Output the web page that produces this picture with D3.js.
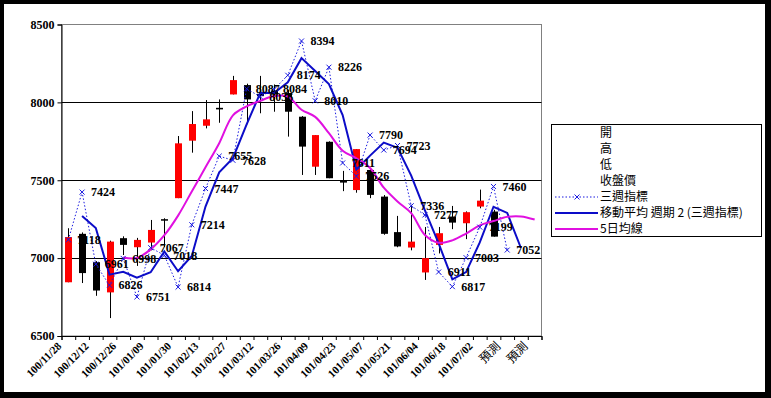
<!DOCTYPE html>
<html>
<head>
<meta charset="utf-8">
<script src="https://cdn.jsdelivr.net/npm/d3@7"></script>
<style>
  body { margin: 0; background: #000; }
  svg text { font-family: "Liberation Serif", serif; font-weight: bold; fill: #000; }
  .cjk { font-family: "Noto Sans CJK TC", sans-serif; font-weight: normal; }
</style>
</head>
<body>
<svg id="chart" width="771" height="398"></svg>
<script>
// week labels (ROC dates), last ones are forecast slots
const weeks = ['100/11/28', '100/12/05', '100/12/12', '100/12/19', '100/12/26', '101/01/02',
  '101/01/09', '101/01/16', '101/01/30', '101/02/06', '101/02/13', '101/02/20', '101/02/27',
  '101/03/05', '101/03/12', '101/03/19', '101/03/26', '101/04/02', '101/04/09', '101/04/16',
  '101/04/23', '101/04/30', '101/05/07', '101/05/14', '101/05/21', '101/05/28', '101/06/04',
  '101/06/11', '101/06/18', '101/06/25', '101/07/02', '101/07/09', '預測', '預測', '預測'];

// weekly candles
const open = [6845, 7156, 6974, 6780, 7128, 7070, 7100, 7250, 7385, 7754, 7850, 7965, 8051, 8111, 8055, 8075,
  8060, 7908, 7587, 7747, 7495, 7437, 7566, 7395, 7167, 7068, 6908, 7085, 7267, 7224, 7331, 7299];
const high = [7192, 7165, 6981, 7112, 7140, 7130, 7245, 7256, 7784, 7944, 8015, 8019, 8170, 8120, 8170, 8115,
  8080, 7912, 7790, 7750, 7560, 7700, 7577, 7405, 7271, 7342, 7200, 7200, 7335, 7300, 7440, 7310];
const low = [6845, 6840, 6758, 6615, 7020, 6950, 7050, 7070, 7385, 7677, 7833, 7869, 8051, 7860, 7930, 7940,
  7780, 7534, 7534, 7513, 7430, 7420, 7385, 7150, 7070, 7050, 6860, 7030, 7186, 7122, 7320, 7138];
const close = [7135, 6904, 6792, 7106, 7085, 7117, 7181, 7245, 7737, 7861, 7891, 7955, 8143, 8019, 8040, 8050,
  7940, 7716, 7790, 7513, 7485, 7700, 7406, 7156, 7075, 7106, 7000, 7160, 7228, 7295, 7369, 7138];

// 三週指標
const threeWeek = [7118, 7424, 6961, 6826, 6998, 6751, 7067, 7018, 6814, 7214, 7447, 7655, 7628, 8087, 8036, 8084,
  8174, 8394, 8010, 8226, 7611, 7526, 7790, 7694, 7723, 7336, 7277, 6911, 6817, 7003, 7199, 7460, 7052, null, null];

// 移動平均 週期 2 (三週指標)
const ma2 = [null, 7271, 7193, 6894, 6912, 6875, 6909, 7043, 6916, 7014, 7331, 7551, 7642, 7858, 8062, 8060,
  8129, 8284, 8202, 8118, 7919, 7569, 7658, 7742, 7709, 7530, 7307, 7094, 6864, 6910, 7101, 7330, 7290, 7065, null];

// 5日均線
const ma5 = [null, null, null, null, 7004, 7001, 7056, 7147, 7273, 7428, 7583, 7738, 7917, 7974, 8010, 8041,
  8038, 7953, 7907, 7802, 7689, 7641, 7579, 7452, 7364, 7289, 7149, 7099, 7114, 7158, 7210, 7238, 7265, 7268, 7248];

const yTicks = [6500, 7000, 7500, 8000, 8500];
const legendNames = ['開', '高', '低', '收盤價', '三週指標', '移動平均  週期 2 (三週指標)', '5日均線'];

const svg = d3.select('#chart');
svg.append('rect').attr('width', 771).attr('height', 398).attr('fill', '#000');
svg.append('rect').attr('x', 4).attr('y', 4).attr('width', 761).attr('height', 388).attr('fill', '#fff');

const plotL = 61.5, plotR = 541.5, plotT = 24.5, plotB = 336;
const x = d3.scaleLinear().domain([0, weeks.length]).range([plotL, plotR]);
const cx = i => x(i + 0.5);
const y = d3.scaleLinear().domain([6500, 8500]).range([plotB, plotT]);

// plot frame
svg.append('rect').attr('x', plotL).attr('y', plotT).attr('width', plotR - plotL).attr('height', plotB - plotT)
  .attr('fill', 'none').attr('stroke', '#808080');

// gridlines
svg.append('g').selectAll('line').data(yTicks.slice(1, -1)).join('line')
  .attr('x1', plotL).attr('x2', plotR).attr('y1', d => Math.round(y(d)) + 0.5).attr('y2', d => Math.round(y(d)) + 0.5)
  .attr('stroke', '#000');

// axes
const yAxis = svg.append('g').attr('transform', `translate(${plotL},0)`)
  .call(d3.axisLeft(y).tickValues(yTicks).tickSize(4).tickPadding(3).tickFormat(d3.format('d')));
yAxis.select('.domain').attr('stroke', '#000');
yAxis.selectAll('text').attr('font-size', 12).style('font-family', '"Liberation Serif", serif').style('font-weight', 'bold');

const xAxis = svg.append('g').attr('transform', `translate(0,${plotB})`)
  .call(d3.axisBottom(x).tickValues(d3.range(weeks.length + 1)).tickSize(4).tickFormat(''));
xAxis.select('.domain').attr('stroke', '#000');

// category labels, every other week
svg.append('g').selectAll('text').data(weeks.map((w, i) => ({ w, i })).filter(d => d.i % 2 === 0)).join('text')
  .attr('class', d => /\d/.test(d.w) ? null : 'cjk')
  .attr('transform', d => `translate(${cx(d.i) - 9},${plotB + 8}) rotate(-45)`)
  .attr('text-anchor', 'end')
  .attr('font-size', d => /\d/.test(d.w) ? 11 : 12)
  .attr('dy', '0.35em')
  .text(d => d.w);

// candles
const candles = svg.append('g');
candles.selectAll('line').data(open).join('line')
  .attr('x1', (d, i) => Math.round(cx(i)) + 0.5).attr('x2', (d, i) => Math.round(cx(i)) + 0.5)
  .attr('y1', (d, i) => y(high[i])).attr('y2', (d, i) => y(low[i]))
  .attr('stroke', '#000');
candles.selectAll('rect').data(open).join('rect')
  .attr('x', (d, i) => Math.round(cx(i)) - 3)
  .attr('width', 7)
  .attr('y', (d, i) => y(Math.max(d, close[i])))
  .attr('height', (d, i) => Math.max(1.5, Math.abs(y(d) - y(close[i]))))
  .attr('fill', (d, i) => close[i] > d ? '#ff0000' : '#000');

// 三週指標 dotted line with x markers
const pts = threeWeek.map((v, i) => ({ v, i })).filter(d => d.v != null);
svg.append('path').datum(pts)
  .attr('d', d3.line().x(d => cx(d.i)).y(d => y(d.v)))
  .attr('fill', 'none').attr('stroke', '#1a1ae0').attr('stroke-width', 1).attr('stroke-dasharray', '1.5,2');

// moving average (period 2)
svg.append('path').datum(ma2.map((v, i) => ({ v, i })).filter(d => d.v != null))
  .attr('d', d3.line().x(d => cx(d.i)).y(d => y(d.v)))
  .attr('fill', 'none').attr('stroke', '#0c0cc8').attr('stroke-width', 2);

// 5日均線
svg.append('path').datum(ma5.map((v, i) => ({ v, i })).filter(d => d.v != null))
  .attr('d', d3.line().x(d => cx(d.i)).y(d => y(d.v)).curve(d3.curveCatmullRom))
  .attr('fill', 'none').attr('stroke', '#e010e0').attr('stroke-width', 2);

const cross = d3.symbol().type(d3.symbolTimes).size(18);
svg.append('g').selectAll('path').data(pts).join('path')
  .attr('transform', d => `translate(${cx(d.i)},${y(d.v)})`)
  .attr('d', cross).attr('fill', 'none').attr('stroke', '#1a1ae0').attr('stroke-width', 1);

svg.append('g').selectAll('text').data(pts).join('text')
  .attr('x', d => cx(d.i) + 9).attr('y', d => y(d.v)).attr('dy', '0.35em')
  .attr('font-size', 12).text(d => d.v);

// legend
const lg = svg.append('g');
lg.append('rect').attr('x', 551.5).attr('y', 124.5).attr('width', 210).attr('height', 112)
  .attr('fill', '#fff').attr('stroke', '#000');
const ly = i => 133 + i * 16;
lg.selectAll('text').data(legendNames).join('text').attr('class', 'cjk')
  .attr('x', 600).attr('y', (d, i) => ly(i)).attr('dy', '0.35em').attr('font-size', 12).text(d => d);
lg.append('line').attr('x1', 555).attr('x2', 598).attr('y1', ly(4)).attr('y2', ly(4))
  .attr('stroke', '#1a1ae0').attr('stroke-dasharray', '1.5,2');
lg.append('path').attr('transform', `translate(577,${ly(4)})`).attr('d', cross)
  .attr('fill', 'none').attr('stroke', '#1a1ae0');
lg.append('line').attr('x1', 555).attr('x2', 598).attr('y1', ly(5)).attr('y2', ly(5))
  .attr('stroke', '#0c0cc8').attr('stroke-width', 2);
lg.append('line').attr('x1', 555).attr('x2', 598).attr('y1', ly(6)).attr('y2', ly(6))
  .attr('stroke', '#e010e0').attr('stroke-width', 2);
</script>
</body>
</html>
